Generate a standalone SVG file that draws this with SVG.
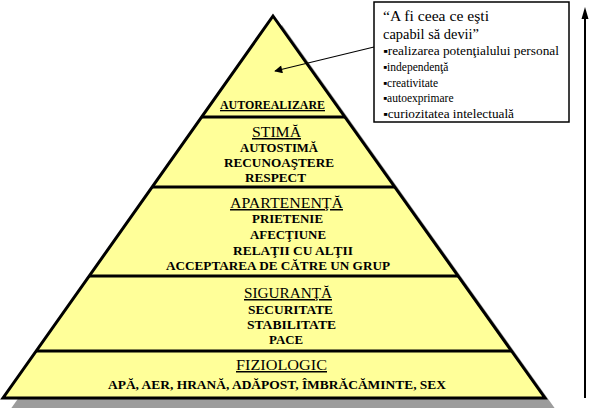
<svg xmlns="http://www.w3.org/2000/svg" width="592" height="408" viewBox="0 0 592 408">
<style>
text{font-family:'Liberation Serif','DejaVu Serif','Times New Roman',Times,serif;fill:#000}
.tier{fill:#FFFF99;stroke:none}
.div{stroke:#000;stroke-width:3}
.hd{font-size:15px;text-decoration:underline}
.it{font-size:13px;font-weight:bold}
.cq{font-size:15px}
.cb{font-size:11.5px}
.conn{stroke:#000;fill:none}
</style>
<defs>
<marker id="ah" viewBox="0 0 10 10" refX="9" refY="5" markerWidth="10" markerHeight="8" markerUnits="userSpaceOnUse" orient="auto">
<path d="M0,0 L10,5 L0,10 z" fill="#000"/>
</marker>
</defs>
<rect width="592" height="408" fill="#fff"/>
<polygon id="shadow" points="282,25 556,410 10,410" fill="#9c9c9c"/>
<g id="tier-autorealizare">
<polygon class="tier" points="273,16 344.9,117 201.6,117"/>
<text class="it" x="220" y="109" textLength="105" lengthAdjust="spacingAndGlyphs" text-decoration="underline">AUTOREALIZARE</text>
</g>
<g id="tier-stima">
<polygon class="tier" points="201.6,117 344.9,117 394.8,187 152.1,187"/>
<text class="hd" x="252" y="137" textLength="49" lengthAdjust="spacingAndGlyphs">STIMĂ</text>
<text class="it" x="240" y="152" textLength="78" lengthAdjust="spacingAndGlyphs">AUTOSTIMĂ</text>
<text class="it" x="224" y="167" textLength="110" lengthAdjust="spacingAndGlyphs">RECUNOAŞTERE</text>
<text class="it" x="245" y="182" textLength="61" lengthAdjust="spacingAndGlyphs">RESPECT</text>
</g>
<g id="tier-apartenenta">
<polygon class="tier" points="152.1,187 394.8,187 458.1,276 89.2,276"/>
<text class="hd" x="230" y="208" textLength="113" lengthAdjust="spacingAndGlyphs">APARTENENŢĂ</text>
<text class="it" x="252" y="223" textLength="71" lengthAdjust="spacingAndGlyphs">PRIETENIE</text>
<text class="it" x="250" y="239" textLength="76" lengthAdjust="spacingAndGlyphs">AFECŢIUNE</text>
<text class="it" x="233" y="255" textLength="120" lengthAdjust="spacingAndGlyphs">RELAŢII CU ALŢII</text>
<text class="it" x="166" y="270" textLength="224" lengthAdjust="spacingAndGlyphs">ACCEPTAREA DE CĂTRE UN GRUP</text>
</g>
<g id="tier-siguranta">
<polygon class="tier" points="89.2,276 458.1,276 511.5,351 36.2,351"/>
<text class="hd" x="244" y="298" textLength="88" lengthAdjust="spacingAndGlyphs">SIGURANŢĂ</text>
<text class="it" x="248" y="314" textLength="85" lengthAdjust="spacingAndGlyphs">SECURITATE</text>
<text class="it" x="247" y="329" textLength="89" lengthAdjust="spacingAndGlyphs">STABILITATE</text>
<text class="it" x="269" y="344" textLength="34" lengthAdjust="spacingAndGlyphs">PACE</text>
</g>
<g id="tier-fiziologic">
<polygon class="tier" points="36.2,351 511.5,351 545,398 3,398"/>
<text class="hd" x="236" y="370" textLength="91" lengthAdjust="spacingAndGlyphs">FIZIOLOGIC</text>
<text class="it" x="108" y="389" textLength="338" lengthAdjust="spacingAndGlyphs">APĂ, AER, HRANĂ, ADĂPOST, ÎMBRĂCĂMINTE, SEX</text>
</g>
<g id="pyramid-outline">
<polygon points="273,16 545,398 3,398" fill="none" stroke="#000" stroke-width="3" stroke-linejoin="miter"/>
<line class="div" x1="201.6" y1="117" x2="344.9" y2="117"/>
<line class="div" x1="152.1" y1="187" x2="394.8" y2="187"/>
<line class="div" x1="89.2" y1="276" x2="458.1" y2="276"/>
<line class="div" x1="36.2" y1="351" x2="511.5" y2="351"/>
</g>
<g id="callout">
<rect x="374" y="2" width="195" height="120" fill="#fff" stroke="#000" stroke-width="1.5"/>
<text class="cq" x="383" y="21" textLength="106" lengthAdjust="spacingAndGlyphs">“A fi ceea ce eşti</text>
<text class="cq" x="383" y="39" textLength="96" lengthAdjust="spacingAndGlyphs">capabil să devii”</text>
<text class="cb" x="383" y="55" textLength="176" lengthAdjust="spacingAndGlyphs">▪realizarea potenţialului personal</text>
<text class="cb" x="383" y="71">▪independenţă</text>
<text class="cb" x="383" y="87">▪creativitate</text>
<text class="cb" x="383" y="102">▪autoexprimare</text>
<text class="cb" x="383" y="118" textLength="131" lengthAdjust="spacingAndGlyphs">▪curiozitatea intelectuală</text>
</g>
<g id="connectors">
<line class="conn" x1="374" y1="47" x2="275" y2="71" stroke-width="1.2" marker-end="url(#ah)"/>
<line class="conn" x1="585" y1="398" x2="585" y2="16" stroke-width="2"/>
<polygon points="585,7 581.5,19 588.5,19" fill="#000"/>
</g>
</svg>
